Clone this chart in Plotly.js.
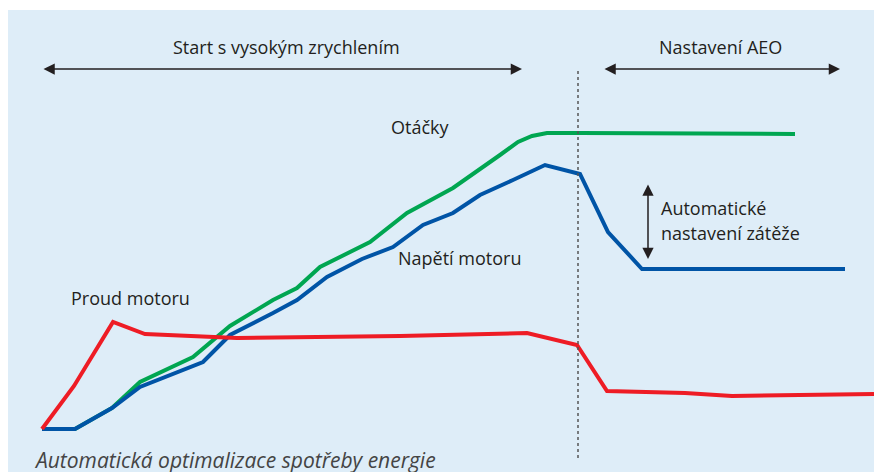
<!DOCTYPE html>
<html>
<head>
<meta charset="utf-8">
<script src="https://cdn.plot.ly/plotly-3.0.1.min.js"></script>
<style>
  html, body { margin: 0; padding: 0; background: #fff; }
  #chart { width: 874px; height: 472px; }
</style>
</head>
<body>
<div id="chart"></div>
<script>
// time axis (arbitrary units) and signal levels
var proudX = [42, 74, 113, 145, 237, 400, 527, 577, 607, 685, 732, 874];
var proudY = [43, 86, 150, 138, 134, 136, 139, 127, 81, 79, 76, 78];

var otackyX = [42, 75, 112, 140, 193, 230, 273, 297, 320, 370, 407, 453, 500, 518, 532, 547, 580, 795];
var otackyY = [43, 43, 64, 90, 115, 146, 172, 184, 205, 230, 259, 284, 317, 330, 336, 339, 339, 338];

var napetiX = [42, 75, 112, 140, 203, 230, 273, 297, 327, 362, 393, 423, 453, 480, 513, 545, 580, 608, 642, 845];
var napetiY = [43, 43, 64, 85, 110, 137, 159, 172, 195, 213, 225, 247, 259, 277, 292, 307, 298, 240, 203, 203];

var aeoStart = 578;

var red = '#ee1c25';
var green = '#00a651';
var blue = '#0054a6';
var ink = '#231f20';
var font = 'Open Sans, Noto Sans, sans-serif';

var data = [
    {x: otackyX, y: otackyY, type: 'scatter', mode: 'lines', line: {color: green, width: 4}},
    {x: napetiX, y: napetiY, type: 'scatter', mode: 'lines', line: {color: blue, width: 4}},
    {x: proudX, y: proudY, type: 'scatter', mode: 'lines', line: {color: red, width: 4}}
];

function label(text, x, y, anchor) {
    return {
        text: text, x: x, y: y, xref: 'x', yref: 'y',
        xanchor: anchor || 'left', yanchor: 'middle', showarrow: false,
        font: {family: font, size: 18, color: ink}
    };
}

function arrow(x0, y0, x1, y1) {
    return {
        x: x1, y: y1, ax: x0, ay: y0, xref: 'x', yref: 'y', axref: 'x', ayref: 'y',
        text: '', showarrow: true, arrowside: 'end+start',
        arrowhead: 2, startarrowhead: 2, arrowsize: 1.5, startarrowsize: 1.5,
        arrowwidth: 1.5, arrowcolor: ink
    };
}

var layout = {
    width: 874,
    height: 472,
    margin: {l: 0, r: 0, t: 0, b: 0},
    paper_bgcolor: '#ffffff',
    plot_bgcolor: 'rgba(0,0,0,0)',
    showlegend: false,
    xaxis: {range: [0, 874], visible: false, fixedrange: true},
    yaxis: {range: [0, 472], visible: false, fixedrange: true},
    shapes: [
        {type: 'rect', xref: 'x', yref: 'y', x0: 8, x1: 874, y0: 0, y1: 462,
         fillcolor: '#deedf8', line: {width: 0}, layer: 'below'},
        {type: 'line', xref: 'x', yref: 'y', x0: aeoStart, x1: aeoStart, y0: 14, y1: 404,
         line: {color: '#555555', width: 1.5, dash: 'dot'}}
    ],
    annotations: [
        label('Start s vysokým zrychlením', 286, 425, 'center'),
        label('Nastavení AEO', 720, 425, 'center'),
        arrow(42, 403, 522, 403),
        arrow(603, 403, 840, 403),
        label('Otáčky', 389, 345),
        label('Napětí motoru', 396, 214),
        label('Proud motoru', 69, 174),
        arrow(648, 289, 648, 213),
        label('Automatické', 659, 264),
        label('nastavení zátěže', 659, 239),
        {
            text: '<i>Automatická optimalizace spotřeby energie</i>',
            x: 32, y: 12, xref: 'x', yref: 'y', xanchor: 'left', yanchor: 'middle',
            showarrow: false, font: {family: font, size: 21, color: '#444444'}
        }
    ]
};

Plotly.newPlot('chart', data, layout, {staticPlot: true});
</script>
</body>
</html>
